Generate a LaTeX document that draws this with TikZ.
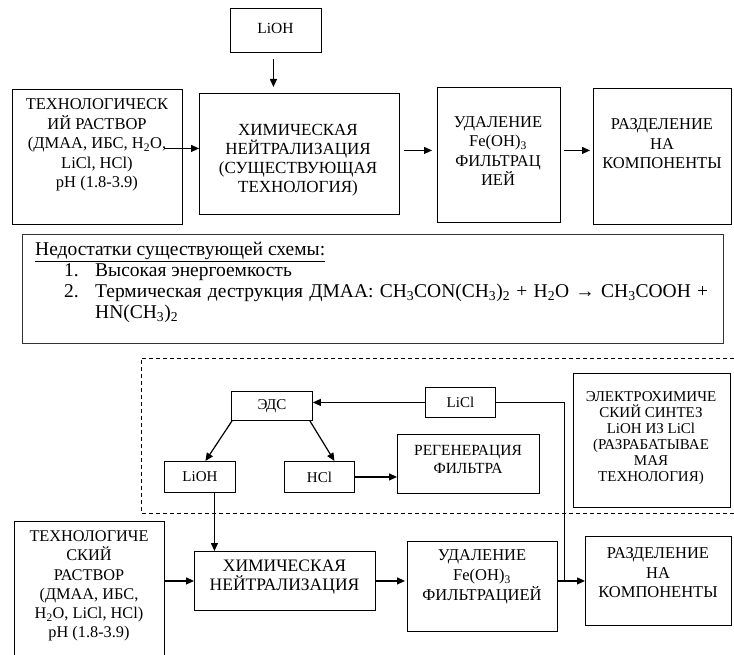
\documentclass[tikz,border=0pt]{standalone}
\usepackage{fontspec}
\setmainfont{Liberation Serif}
\usetikzlibrary{arrows.meta,calc}

\tikzset{
  box/.style={draw=black, line width=0.9pt, rectangle, inner sep=0pt, anchor=north west},
  txt/.style={align=center, inner sep=0pt, font=\fontsize{16.5}{19.5}\selectfont},
  stxt/.style={align=center, inner sep=0pt, font=\fontsize{15}{16}\selectfont},
  arr/.style={line width=1.2pt, -{Triangle[length=8pt,width=7pt]}},
  link/.style={line width=1pt},
  frame/.style={line width=0.9pt, dash pattern=on 4pt off 3pt}
}

\begin{document}
\begin{tikzpicture}[x=1pt,y=-1pt]
\useasboundingbox (0,0) rectangle (734,655);

% ---------- existing process ----------
\node[box, minimum width=91pt, minimum height=44pt] (lioh1) at (230,8) {};
\node[txt, font=\fontsize{15.5}{18}\selectfont] (lioh1t) at (275.5,28) {LiOH};

\node[box, minimum width=170pt, minimum height=135pt] (tech1) at (12,89) {};
\node[txt] (tech1t) at (97,145) {ТЕХНОЛОГИЧЕСК\\ИЙ РАСТВОР\\(ДМАА, ИБС, H\textsubscript{2}O,\\LiCl, HCl)\\pH (1.8-3.9)};

\node[box, minimum width=200pt, minimum height=121pt] (neut1) at (199,93) {};
\node[txt, font=\fontsize{17}{19}\selectfont] (neut1t) at (298,160) {ХИМИЧЕСКАЯ\\НЕЙТРАЛИЗАЦИЯ\\(СУЩЕСТВУЮЩАЯ\\ТЕХНОЛОГИЯ)};

\node[box, minimum width=123pt, minimum height=135pt] (udal1) at (437,87) {};
\node[txt] (udal1t) at (498,151) {УДАЛЕНИЕ\\Fe(OH)\textsubscript{3}\\ФИЛЬТРАЦ\\ИЕЙ};

\node[box, minimum width=138pt, minimum height=136pt] (razd1) at (593,88) {};
\node[txt] (razd1t) at (662,144) {РАЗДЕЛЕНИЕ\\НА\\КОМПОНЕНТЫ};

\draw[arr] ([xshift=-2.5pt,yshift=-6pt]lioh1.south) -- ([xshift=-26pt,yshift=6pt]neut1.north);
\draw[arr] ($(tech1.east)+(-19,-8.5)$) -- ($(neut1.west)+(0,-5.5)$);
\draw[arr] ($(neut1.east)+(4,-3.5)$) -- ($(udal1.west)+(-5,-4.5)$);
\draw[arr] ($(udal1.east)+(3,-4.5)$) -- ($(razd1.west)+(-3,-6)$);

% ---------- drawbacks ----------
\node[box, draw=black!80, line width=1.1pt, minimum width=701pt, minimum height=109pt] (defects) at (22,234) {};
\node[inner sep=0pt, anchor=north west, align=left, font=\fontsize{19.5}{21}\selectfont] (defectst) at (35,242) {%
\underline{Недостатки существующей схемы:}\\
\hspace*{29pt}\makebox[31pt][l]{1.}Высокая энергоемкость\\
\hspace*{29pt}\makebox[31pt][l]{2.}\makebox[613pt][s]{Термическая деструкция ДМАА: CH\textsubscript{3}CON(CH\textsubscript{3})\textsubscript{2} + H\textsubscript{2}O → CH\textsubscript{3}COOH +}\\
\hspace*{60pt}HN(CH\textsubscript{3})\textsubscript{2}};

% ---------- proposed process ----------
\draw[frame] (734,358) -- (141,358) -- (141,513) -- (734,513);

\node[box, minimum width=81pt, minimum height=29pt] (eds) at (231,391) {};
\node[stxt] (edst) at (eds.center) {ЭДС};

\node[box, minimum width=70pt, minimum height=30pt] (licl) at (425,387) {};
\node[stxt] (liclt) at (licl.center) {LiCl};

\node[box, minimum width=157pt, minimum height=134pt] (electro) at (573,373) {};
\node[stxt] (electrot) at (651,438) {ЭЛЕКТРОХИМИЧЕ\\СКИЙ СИНТЕЗ\\LiOH ИЗ LiCl\\(РАЗРАБАТЫВАЕ\\МАЯ\\ТЕХНОЛОГИЯ)};

\node[box, minimum width=71pt, minimum height=31pt] (lioh2) at (164,461) {};
\node[stxt] (lioh2t) at (lioh2.center) {LiOH};

\node[box, minimum width=70pt, minimum height=31pt] (hcl) at (284,461) {};
\node[stxt] (hclt) at (hcl.center) {HCl};

\node[box, minimum width=142pt, minimum height=59pt] (regen) at (397,434) {};
\node[stxt, font=\fontsize{15.5}{18}\selectfont] (regent) at (468,459) {РЕГЕНЕРАЦИЯ\\ФИЛЬТРА};

\node[box, minimum width=150pt, minimum height=140pt] (tech2) at (14,521) {};
\node[txt, font=\fontsize{16.3}{19.3}\selectfont] (tech2t) at (89,586) {ТЕХНОЛОГИЧЕ\\СКИЙ\\РАСТВОР\\(ДМАА, ИБС,\\H\textsubscript{2}O, LiCl, HCl)\\pH (1.8-3.9)};

\node[box, minimum width=181pt, minimum height=59pt] (neut2) at (194,551) {};
\node[txt, font=\fontsize{17.5}{19}\selectfont] (neut2t) at (284.5,577.5) {ХИМИЧЕСКАЯ\\НЕЙТРАЛИЗАЦИЯ};

\node[box, minimum width=150pt, minimum height=90pt] (udal2) at (407,541) {};
\node[txt, font=\fontsize{16.5}{20}\selectfont] (udal2t) at (482,577) {УДАЛЕНИЕ\\Fe(OH)\textsubscript{3}\\ФИЛЬТРАЦИЕЙ};

\node[box, minimum width=146pt, minimum height=89pt] (razd2) at (585,536) {};
\node[txt] (razd2t) at (658,573) {РАЗДЕЛЕНИЕ\\НА\\КОМПОНЕНТЫ};

\coordinate (join) at (564,0);
\coordinate (drop) at ($(lioh2.south)+(14.5,0)$);

\draw[arr] (licl.west) -- (eds.east |- licl.west);
\draw[link] (licl.east) -| (join |- razd2.west);
\draw[arr] ($(eds.south west)+(1,0)$) -- ($(lioh2.north)+(5.5,0)$);
\draw[arr] ($(eds.south east)+(-3,0)$) -- ($(hcl.north)+(15,0)$);
\draw[arr] (hcl.east) -- (hcl.east -| regen.west);
\draw[arr] (drop) -- (drop |- neut2.north);
\draw[arr] (tech2.east |- neut2.west) -- (neut2.west);
\draw[arr] (neut2.east) -- ($(udal2.west |- neut2.east)+(-2,0)$);
\draw[arr] (udal2.east |- razd2.west) -- (razd2.west);
\end{tikzpicture}
\end{document}
